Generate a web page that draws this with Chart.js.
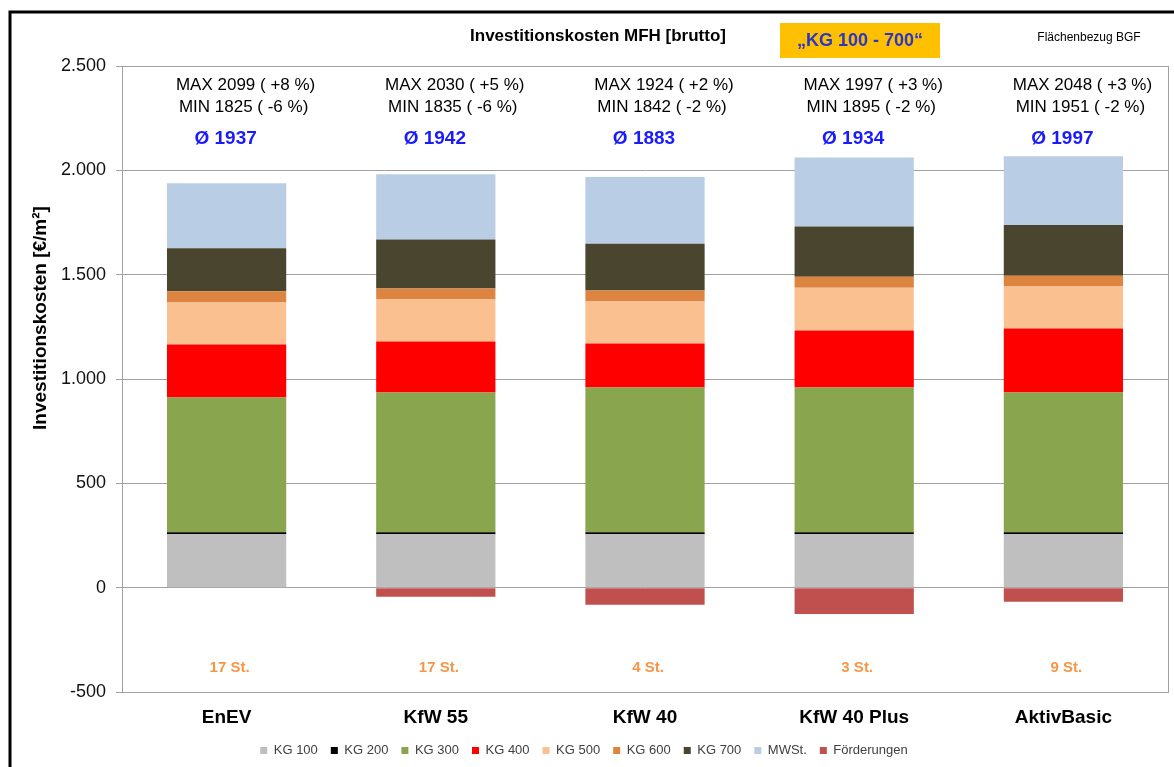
<!DOCTYPE html>
<html>
<head>
<meta charset="utf-8">
<script src="https://cdn.jsdelivr.net/npm/chart.js@4"></script>
<style>
  body { margin: 0; background: #fff; }
  canvas { display: block; }
</style>
</head>
<body>
<canvas id="kostenChart" width="1174" height="767"></canvas>
<script>
const categories = ["EnEV", "KfW 55", "KfW 40", "KfW 40 Plus", "AktivBasic"];

const kg100 = [256, 256, 256, 256, 256];
const kg200 = [10, 10, 10, 10, 10];
const kg300 = [645, 669, 693, 693, 669];
const kg400 = [254, 245, 211, 274, 307];
const kg500 = [202, 201, 202, 204, 201];
const kg600 = [53, 53, 52, 53, 52];
const kg700 = [206, 235, 224, 241, 243];
const mwst = [312, 312, 320, 331, 329];
const foerderungen = [0, -43, -82, -126, -68];

const maxLabels = ["MAX 2099 ( +8 %)", "MAX 2030 ( +5 %)", "MAX 1924 ( +2 %)", "MAX 1997 ( +3 %)", "MAX 2048 ( +3 %)"];
const minLabels = ["MIN 1825 ( -6 %)", "MIN 1835 ( -6 %)", "MIN 1842 ( -2 %)", "MIN 1895 ( -2 %)", "MIN 1951 ( -2 %)"];
const avgLabels = ["Ø 1937", "Ø 1942", "Ø 1883", "Ø 1934", "Ø 1997"];
const countLabels = ["17 St.", "17 St.", "4 St.", "3 St.", "9 St."];

const yMin = -500;
const yMax = 2500;
const yStep = 500;

const FONT = "Arial, 'Liberation Sans', sans-serif";

function deNumber(v) {
  const s = String(Math.abs(v)).replace(/\B(?=(\d{3})+(?!\d))/g, ".");
  return (v < 0 ? "-" : "") + s;
}

const series = [
  { label: "KG 100", data: kg100, color: "#bfbfbf" },
  { label: "KG 200", data: kg200, color: "#000000" },
  { label: "KG 300", data: kg300, color: "#89a54e" },
  { label: "KG 400", data: kg400, color: "#ff0000" },
  { label: "KG 500", data: kg500, color: "#fac090" },
  { label: "KG 600", data: kg600, color: "#dd8540" },
  { label: "KG 700", data: kg700, color: "#4a452e" },
  { label: "MWSt.", data: mwst, color: "#b9cde5" },
  { label: "Förderungen", data: foerderungen, color: "#c0504d" }
];

const datasets = series.map(s => ({
  label: s.label,
  data: s.data,
  backgroundColor: s.color,
  borderWidth: 0,
  stack: "kosten",
  barPercentage: 0.57,
  categoryPercentage: 1
}));

// frame, titles and the text above / below the bars
const decorations = {
  id: "decorations",
  beforeDraw(chart) {
    const ctx = chart.ctx;
    ctx.save();
    ctx.fillStyle = "#fff";
    ctx.fillRect(0, 0, chart.width, chart.height);
    ctx.strokeStyle = "#000";
    ctx.lineWidth = 3;
    ctx.beginPath();
    ctx.moveTo(10, chart.height);
    ctx.lineTo(10, 12);
    ctx.lineTo(chart.width, 12);
    ctx.stroke();
    ctx.restore();
  },
  afterDraw(chart) {
    const ctx = chart.ctx;
    const area = chart.chartArea;
    const x = chart.scales.x;
    ctx.save();

    // plot border
    ctx.strokeStyle = "#a0a0a0";
    ctx.lineWidth = 1;
    ctx.strokeRect(area.left + 0.5, area.top + 0.5, area.right - area.left, area.bottom - area.top);

    // header
    ctx.textBaseline = "middle";
    ctx.textAlign = "center";
    ctx.fillStyle = "#000";
    ctx.font = "bold 17px " + FONT;
    ctx.fillText("Investitionskosten MFH [brutto]", 598, 36);

    ctx.fillStyle = "#ffc000";
    ctx.fillRect(780, 23, 160, 35);
    ctx.fillStyle = "#2a36c8";
    ctx.font = "bold 18px " + FONT;
    ctx.fillText("\u201EKG 100 - 700\u201C", 860, 41);

    ctx.fillStyle = "#000";
    ctx.font = "12px " + FONT;
    ctx.fillText("Flächenbezug BGF", 1089, 38);

    // y axis title
    ctx.save();
    ctx.translate(41, 318);
    ctx.rotate(-Math.PI / 2);
    ctx.font = "bold 19px " + FONT;
    ctx.fillStyle = "#000";
    ctx.fillText("Investitionskosten [€/m²]", 0, 0);
    ctx.restore();

    categories.forEach((c, i) => {
      const cx = x.getPixelForValue(i);
      ctx.fillStyle = "#000";
      ctx.font = "17px " + FONT;
      ctx.fillText(maxLabels[i], cx + 19, 85);
      ctx.fillText(minLabels[i], cx + 17, 107);

      ctx.fillStyle = "#1a1aff";
      ctx.font = "bold 19px " + FONT;
      ctx.fillText(avgLabels[i], cx - 1, 139);

      ctx.fillStyle = "#f79646";
      ctx.font = "bold 15px " + FONT;
      ctx.fillText(countLabels[i], cx + 3, 668);
    });
    ctx.restore();
  }
};

new Chart(document.getElementById("kostenChart"), {
  type: "bar",
  data: {
    labels: categories,
    datasets
  },
  options: {
    responsive: false,
    animation: false,
    devicePixelRatio: 1,
    layout: {
      padding: { left: 0, right: 6, top: 66, bottom: 0 }
    },
    plugins: {
      title: { display: false },
      tooltip: { enabled: false },
      legend: {
        position: "bottom",
        labels: {
          boxWidth: 7,
          boxHeight: 7,
          padding: 13,
          color: "#404040",
          font: { family: FONT, size: 13 }
        }
      }
    },
    scales: {
      x: {
        stacked: true,
        grid: { display: false },
        border: { display: false },
        ticks: {
          color: "#000",
          padding: 6,
          font: { family: FONT, size: 19, weight: "bold" }
        },
        afterFit(scale) { scale.height = 39; }
      },
      y: {
        stacked: true,
        min: yMin,
        max: yMax,
        grid: {
          color: "#a0a0a0",
          tickLength: 6,
          drawTicks: true
        },
        border: { color: "#a0a0a0" },
        ticks: {
          stepSize: yStep,
          color: "#111",
          padding: 10,
          font: { family: FONT, size: 18 },
          callback: v => deNumber(v)
        },
        afterFit(scale) { scale.width = 122; }
      }
    }
  },
  plugins: [decorations]
});
</script>
</body>
</html>
